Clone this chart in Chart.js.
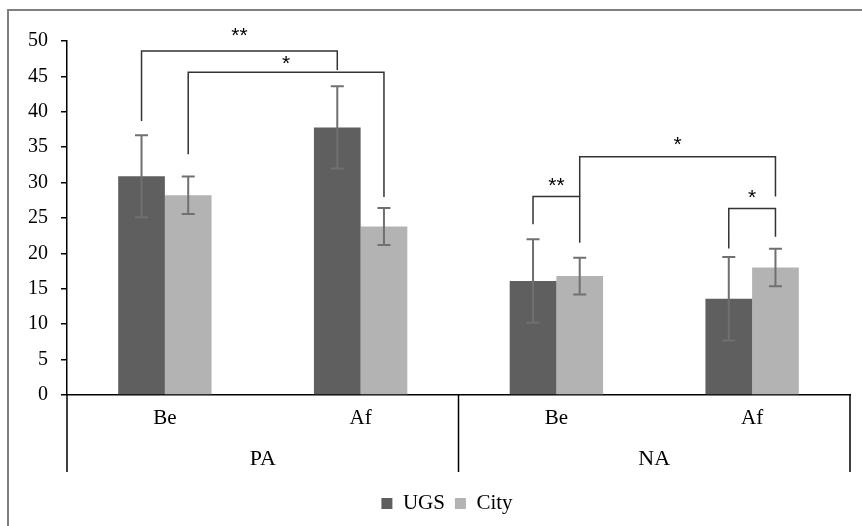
<!DOCTYPE html>
<html>
<head>
<meta charset="utf-8">
<script src="https://cdn.jsdelivr.net/npm/chart.js@4.4.1/dist/chart.umd.min.js"></script>
<style>
  html, body { margin: 0; padding: 0; background: #ffffff; }
  #wrap { width: 862px; height: 526px; }
</style>
</head>
<body>
<div id="wrap"><canvas id="c" width="862" height="526"></canvas></div>
<script>
// ---- data ----
const categories = ['Be', 'Af', 'Be', 'Af'];
const groups = ['PA', 'NA'];
const seriesNames = ['UGS', 'City'];
const ugsValues = [30.9, 37.8, 16.1, 13.6];
const cityValues = [28.2, 23.8, 16.8, 18.0];
const ugsErrors = [5.8, 5.8, 5.9, 5.9];
const cityErrors = [2.65, 2.6, 2.6, 2.65];
const yTicks = [0, 5, 10, 15, 20, 25, 30, 35, 40, 45, 50];
// significance brackets: [catA, seriesA, yStartA, catB, seriesB, yEndB, yTop, label, labelY]
const brackets = [
  [0, 0, 38.7, 1, 0, 45.9, 48.6, '**', 51.6],
  [0, 1, 34.0, 1, 1, 27.95, 45.6, '*', 47.6],
  [2, 0, 24.1, 2, 1, 21.5, 28.05, '**', 30.3],
  [2, 1, 28.05, 3, 1, 28.05, 33.65, '*', 36.2],
  [3, 0, 20.7, 3, 1, 22.35, 26.35, '*', 28.7]
];

const errorSets = [ugsErrors, cityErrors];
const SERIF = '"Liberation Serif", "Times New Roman", serif';
const SANS = '"Liberation Sans", Arial, sans-serif';

const framePlugin = {
  id: 'frame',
  afterLayout(chart) {
    // centre the legend a little to the right, as in the reference
    if (chart.legend) { chart.legend.left += 16; chart.legend.right += 16; }
  },
  beforeDraw(chart) {
    const ctx = chart.ctx;
    ctx.save();
    ctx.strokeStyle = '#7f7f7f';
    ctx.lineWidth = 2;
    ctx.beginPath();
    ctx.moveTo(8, 526);
    ctx.lineTo(8, 10);
    ctx.lineTo(862, 10);
    ctx.stroke();
    ctx.restore();
  }
};

const errorBarPlugin = {
  id: 'errorBars',
  afterDatasetsDraw(chart) {
    const ctx = chart.ctx;
    const ys = chart.scales.y;
    ctx.save();
    ctx.strokeStyle = '#707070';
    ctx.lineWidth = 2;
    chart.data.datasets.forEach((ds, d) => {
      const meta = chart.getDatasetMeta(d);
      meta.data.forEach((el, i) => {
        const v = ds.data[i];
        const e = errorSets[d][i];
        const x = el.x;
        const yt = ys.getPixelForValue(v + e);
        const yb = ys.getPixelForValue(v - e);
        ctx.beginPath();
        ctx.moveTo(x, yt); ctx.lineTo(x, yb);
        ctx.moveTo(x - 6.5, yt); ctx.lineTo(x + 6.5, yt);
        ctx.moveTo(x - 6.5, yb); ctx.lineTo(x + 6.5, yb);
        ctx.stroke();
      });
    });
    ctx.restore();
  }
};

const bracketPlugin = {
  id: 'brackets',
  afterDraw(chart) {
    const ctx = chart.ctx;
    const ys = chart.scales.y;
    ctx.save();
    ctx.strokeStyle = '#333333';
    ctx.lineWidth = 1.5;
    ctx.fillStyle = '#000000';
    ctx.font = '21px ' + SANS;
    ctx.textAlign = 'center';
    ctx.textBaseline = 'alphabetic';
    brackets.forEach(b => {
      const xa = chart.getDatasetMeta(b[1]).data[b[0]].x;
      const xb = chart.getDatasetMeta(b[4]).data[b[3]].x;
      const ya = ys.getPixelForValue(b[2]);
      const yb = ys.getPixelForValue(b[5]);
      const yt = ys.getPixelForValue(b[6]);
      ctx.beginPath();
      ctx.moveTo(xa, ya);
      ctx.lineTo(xa, yt);
      ctx.lineTo(xb, yt);
      ctx.lineTo(xb, yb);
      ctx.stroke();
      ctx.fillText(b[7], (xa + xb) / 2, ys.getPixelForValue(b[8]) + 12);
    });
    ctx.restore();
  }
};

const groupAxisPlugin = {
  id: 'groupAxis',
  afterDraw(chart) {
    const ctx = chart.ctx;
    const xs = chart.scales.x;
    const area = chart.chartArea;
    const per = categories.length / groups.length;
    const step = xs.getPixelForValue(1) - xs.getPixelForValue(0);
    ctx.save();
    ctx.strokeStyle = '#000000';
    ctx.lineWidth = 1.5;
    const top = area.bottom;
    const bottom = area.bottom + 77;
    const edges = [];
    for (let g = 0; g <= groups.length; g++) {
      edges.push(xs.getPixelForValue(g * per) - step / 2);
    }
    edges.forEach(x => {
      ctx.beginPath();
      ctx.moveTo(x, top);
      ctx.lineTo(x, bottom);
      ctx.stroke();
    });
    ctx.fillStyle = '#000000';
    ctx.font = '22px ' + SERIF;
    ctx.textAlign = 'center';
    ctx.textBaseline = 'alphabetic';
    groups.forEach((g, i) => {
      ctx.fillText(g, (edges[i] + edges[i + 1]) / 2, area.bottom + 70);
    });
    ctx.restore();
  }
};

new Chart(document.getElementById('c'), {
  type: 'bar',
  data: {
    labels: categories,
    datasets: [
      { label: seriesNames[0], data: ugsValues, backgroundColor: '#5f5f5f', borderWidth: 0 },
      { label: seriesNames[1], data: cityValues, backgroundColor: '#b3b3b3', borderWidth: 0 }
    ]
  },
  options: {
    responsive: false,
    animation: false,
    layout: { padding: { left: 12, right: 12, top: 41, bottom: 2 } },
    datasets: { bar: { categoryPercentage: 0.477, barPercentage: 1.0 } },
    plugins: {
      legend: {
        position: 'bottom',
        labels: {
          boxWidth: 11, boxHeight: 11, padding: 10,
          color: '#000000',
          font: { family: SERIF, size: 21 }
        }
      },
      tooltip: { enabled: false }
    },
    scales: {
      x: {
        grid: { display: false },
        border: { display: true, color: '#000000', width: 1.5 },
        ticks: { color: '#000000', font: { family: SERIF, size: 21 }, padding: 3 },
        afterFit(scale) { scale.height = 88; }
      },
      y: {
        min: 0, max: 50,
        afterBuildTicks(scale) { scale.ticks = yTicks.map(v => ({ value: v })); },
        grid: { drawOnChartArea: false, drawTicks: true, tickLength: 6, color: '#000000', lineWidth: 1.5 },
        border: { display: true, color: '#000000', width: 1.5 },
        ticks: { color: '#000000', font: { family: SERIF, size: 20 }, padding: 13 },
        afterFit(scale) { scale.width = 55; }
      }
    }
  },
  plugins: [framePlugin, errorBarPlugin, bracketPlugin, groupAxisPlugin]
});
</script>
</body>
</html>
